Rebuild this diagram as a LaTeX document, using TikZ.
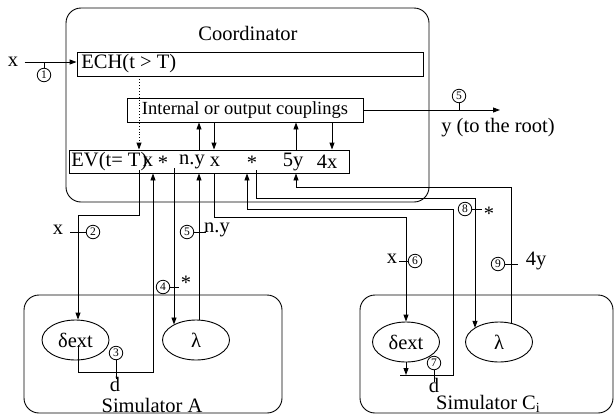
\documentclass[tikz,border=0pt]{standalone}
\usepackage{fontspec}
\setmainfont{Liberation Serif}
\usetikzlibrary{arrows.meta,shapes.geometric}
\begin{document}
\begin{tikzpicture}[x=1pt,y=-1pt,
  line width=0.9pt,
  arr/.style={-{Triangle[length=7pt,width=5pt]}},
  rbox/.style={draw,rounded corners=15pt,inner sep=0pt},
  sbox/.style={draw,inner sep=0pt},
  txt/.style={inner sep=0pt,font=\fontsize{20.5}{24}\selectfont},
  stxt/.style={inner sep=0pt,font=\fontsize{18.5}{22}\selectfont},
  ell/.style={ellipse,draw,inner sep=0pt,minimum width=67pt,minimum height=40pt,font=\fontsize{20.5}{24}\selectfont},
  num/.style={circle,draw,inner sep=0pt,minimum size=13.5pt,line width=0.8pt,font=\fontsize{11.5}{11.5}\selectfont}]
\useasboundingbox (0,0) rectangle (615,418);

% boxes
\node[rbox,minimum width=363pt,minimum height=194pt] (coord) at (247.5,105) {};
\node[txt] (coordt) at (248,33) {Coordinator};
\node[sbox,minimum width=346pt,minimum height=24pt] (ech) at (250,64) {};
\node[txt,anchor=west] (echt) at (81,64) {ECH(t > T)};
\node[sbox,minimum width=236pt,minimum height=24pt] (int) at (245,110) {};
\node[stxt] (intt) at (245,110) {Internal or output couplings};
\node[sbox,minimum width=280pt,minimum height=23pt] (ev) at (209,161.5) {};
\node[txt,anchor=west] (evt) at (71,162) {EV(t= T)};
\node[txt] (ev1) at (148,162) {x};
\node[txt] (ev2) at (163,163) {*};
\node[txt] (ev3) at (192,162) {n.y};
\node[txt] (ev4) at (215,162) {x};
\node[txt] (ev5) at (252,163) {*};
\node[txt] (ev6) at (293,162) {5y};
\node[txt] (ev7) at (327,162) {4x};

\node[rbox,minimum width=258pt,minimum height=118pt] (simA) at (153,354) {};
\node[txt] (simAt) at (152,405) {Simulator A};
\node[rbox,minimum width=253pt,minimum height=118pt] (simC) at (486.5,354) {};
\node[txt] (simCt) at (488,404) {Simulator C\raisebox{-0.35ex}{\fontsize{14}{14}\selectfont i}};

\node[ell] (dA) at (75.5,340) {δext};
\node[ell] (lamA) at (196,340) {λ};
\node[ell] (dC) at (406,342) {δext};
\node[ell] (lamC) at (499,342) {λ};

% columns and rows
\coordinate (kA) at (78,0);
\coordinate (k1) at (139,0);
\coordinate (k2) at (153,0);
\coordinate (k3) at (174,0);
\coordinate (k4) at (199,0);
\coordinate (k5) at (214,0);
\coordinate (k6) at (247,0);
\coordinate (k7) at (256,0);
\coordinate (k8) at (296,0);
\coordinate (k9) at (332,0);
\coordinate (kCl) at (400,0);
\coordinate (kC) at (406,0);
\coordinate (kD) at (453,0);
\coordinate (kE) at (475,0);
\coordinate (kF) at (511,0);
\coordinate (r5) at (0,187);
\coordinate (rst) at (0,198);
\coordinate (rd) at (0,209);
\coordinate (rxA) at (0,215);
\coordinate (rxC) at (0,217);
\coordinate (rdA) at (0,372);
\coordinate (rdC) at (0,375);

% input
\node[txt] (xin) at (13,62) {x};
\draw[arr] ([xshift=6pt]xin.east) -- (xin.east -| ech.west);
\node[num] (n1) at (44,75) {1};
\draw (n1.north) -- (n1.north |- xin.east);

% output
\coordinate (outend) at (500,110);
\draw[arr] (int.east) -- (outend);
\node[num] (n5o) at (459,96) {5};
\draw (n5o.south) -- (n5o.south |- outend);
\node[txt] (yroot) at (498,128) {y (to the root)};

% coordinator internal
\draw[arr,dotted] (k1 |- ech.south) -- (k1 |- ev.north);
\draw[arr] (k4 |- ev.north) -- (k4 |- int.south);
\draw[arr] (k5 |- int.south) -- (k5 |- ev.north);
\draw[arr] (k8 |- ev.north) -- (k8 |- int.south);
\draw[arr] (k9 |- int.south) -- (k9 |- ev.north);

% simulator A
\draw[arr] ([yshift=3pt]ev.south -| k1) -- (k1 |- rxA) -- (kA |- rxA) -- (kA |- dA.north);
\draw[arr] ([yshift=-5pt]dA.center -| kA) -- (kA |- rdA) -- (k2 |- rdA) -- (k2 |- ev.south);
\draw[arr] ([yshift=5pt]ev.south -| k3) -- (k3 |- lamA.145);
\draw[arr] (k4 |- lamA.north) -- (k4 |- ev.south);

% simulator C
\draw[arr] (ev.south -| k5) -- (k5 |- rxC) -- (kC |- rxC) -- (kC |- dC.north);
\draw[arr] (dC.south) -- (dC.south |- rdC);
\draw[arr] (kCl |- rdC) -- (kD |- rdC) -- (kD |- rd) -- (k6 |- rd) -- (k6 |- ev.south);
\draw[arr] ([yshift=3pt]ev.south -| k7) -- (k7 |- rst) -- (kE |- rst) -- (kE |- lamC.150);
\draw[arr] (kF |- lamC.55) -- (kF |- r5) -- (k8 |- r5) -- (k8 |- ev.south);

% labels
\node[num] (n2) at (93,232) {2};
\draw (n2.west) -- ++(-16,0);
\node[txt] (lx2) at (58,230) {x};
\node[num] (n5a) at (187,232) {5};
\draw (n5a.east) -- ++(12,0);
\node[txt] (lny) at (217,230) {n.y};
\node[num] (n4) at (163,287) {4};
\draw (n4.east) -- ++(9,0);
\node[txt] (ls4) at (186,283) {*};
\node[num] (n3) at (116,353) {3};
\draw (n3.south) -- ++(0,19);
\node[txt] (ld3) at (115,384) {d};
\node[num] (n7) at (434,363) {7};
\draw (n7.south) -- ++(0,12);
\node[txt] (ld7) at (434,385) {d};
\node[num] (n6) at (415,261) {6};
\draw (n6.west) -- ++(-9,0);
\node[txt] (lx6) at (392,259) {x};
\node[num] (n8) at (465,209) {8};
\draw (n8.east) -- ++(10,0);
\node[txt] (ls8) at (489,214) {*};
\node[num] (n9) at (498,264) {9};
\draw (n9.east) -- ++(13,0);
\node[txt] (l4y) at (536,261) {4y};
\end{tikzpicture}
\end{document}
